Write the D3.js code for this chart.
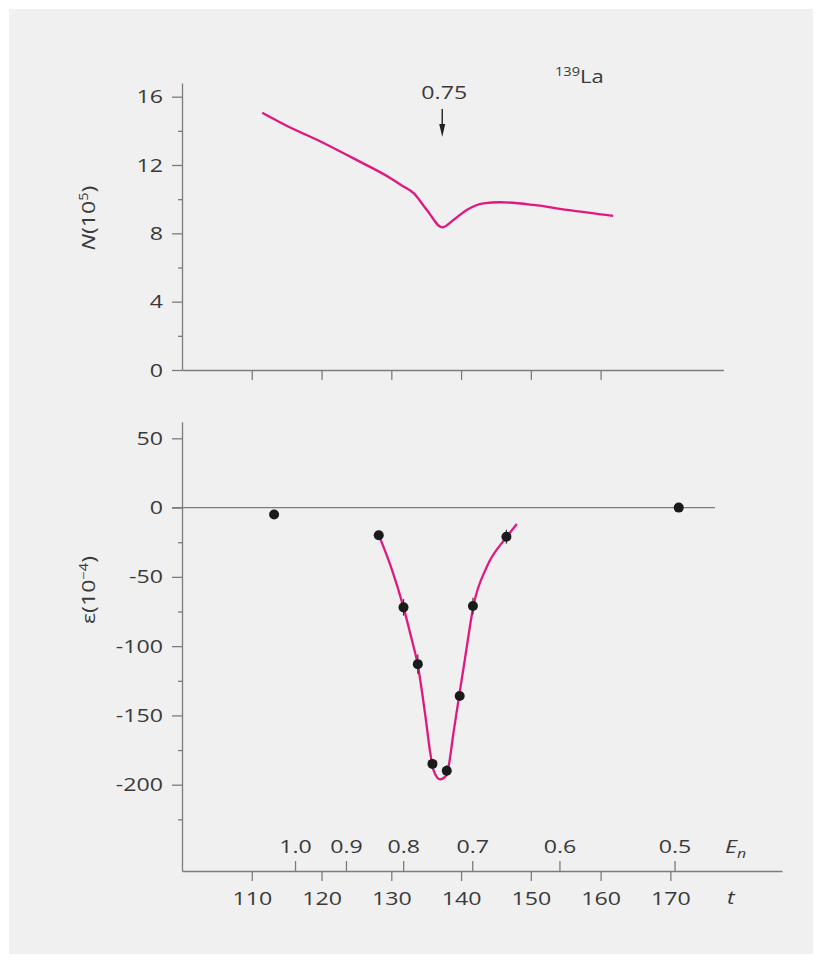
<!DOCTYPE html>
<html>
<head>
<meta charset="utf-8">
<script src="https://cdn.jsdelivr.net/npm/d3@7"></script>
<style>
  html, body { margin: 0; padding: 0; background: #ffffff; }
  svg { display: block; }
  text { font-family: "Open Sans", "Noto Sans", sans-serif; fill: #3a3a3a; }
</style>
</head>
<body>
<svg id="chart" width="822" height="963"></svg>
<script>
// Neutron counts N (×10^5) versus time-of-flight channel t
const countTimes  = [111.5, 115, 120, 125, 130, 131.5, 133.2, 135.1, 137.3, 138.9, 140.8, 143.2, 145.6, 150.4, 155.2, 161.8];
const countValues = [15.06, 14.3, 13.35, 12.3, 11.2, 10.8, 10.35, 9.37, 8.35, 8.78, 9.37, 9.76, 9.82, 9.66, 9.37, 9.02];

// Measured asymmetry ε (×10^-4) with error bars
const pointTimes  = [113.2, 128.2, 131.75, 133.8, 135.9, 137.95, 139.8, 141.7, 146.5, 171.2];
const pointValues = [-5, -20, -72, -113, -185, -190, -136, -71, -21, 0];
const pointErrors = [0, 0, 6, 7, 0, 4, 0, 6, 5, 0];

// Fitted resonance curve for ε
const fitTimes  = [128.2, 130.1, 131.75, 132.95, 133.75, 134.9, 135.6, 136.05, 137.0, 137.7, 138.2, 138.9, 139.7, 140.6, 141.8, 143.7, 146.5, 148.0];
const fitValues = [-19.7, -45, -72, -95.6, -112.4, -151, -177.5, -189.5, -196.2, -194.4, -187, -163, -136.6, -107.7, -70.3, -42.6, -21.4, -11.8];

// Axis ticks
const tTicks      = [110, 120, 130, 140, 150, 160, 170];
const topTTicks   = [110, 120, 130, 140, 150, 160];
const nTicks      = [0, 4, 8, 12, 16];
const nMinor      = [2, 6, 10, 14];
const epsTicks    = [50, 0, -50, -100, -150, -200];
const epsMinor    = [-25, -75, -125, -175, -225];
// Neutron energy labels and the time channel each one falls on
const energyLabels = ["1.0", "0.9", "0.8", "0.7", "0.6", "0.5"];
const energyTimes  = [116.2, 123.5, 131.7, 141.6, 154.1, 170.6];

// Resonance marker
const resonanceEnergy = "0.75";
const resonanceTime = 137.3;

const svg = d3.select("#chart");
const W = 822, H = 963;
const AXIS = "#7c7c7c";
const PINK = "#e0187f";
const FONT = 19;
const SX = 1.22; // horizontal stretch of the lettering

svg.append("rect").attr("x", 9).attr("y", 9).attr("width", W - 18).attr("height", H - 18).attr("fill", "#f0f0f0");

// Shared time scale
const x = d3.scaleLinear().domain([100, 186]).range([182, 782]);
const xTop = x.copy().domain([100, 177.6]).range([x(100), x(177.6)]);

const yTop = d3.scaleLinear().domain([0, 16.8]).range([370, 83]);
const yBot = d3.scaleLinear().domain([-262.3, 62]).range([871, 421.7]);

function stretch(sel) {
  sel.each(function () {
    const t = d3.select(this);
    const tx = +t.attr("x") || 0, ty = +t.attr("y") || 0;
    t.attr("x", 0).attr("y", 0).attr("transform", `translate(${tx},${ty}) scale(${SX},1)`);
  });
}

function styleAxis(g) {
  g.selectAll("path.domain").attr("stroke", AXIS).attr("stroke-width", 1.3);
  g.selectAll(".tick line").attr("stroke", AXIS).attr("stroke-width", 1.3);
  g.selectAll("text").attr("font-size", FONT).attr("fill", "#3a3a3a")
    .attr("font-family", '"Open Sans", "Noto Sans", sans-serif');
}

// ---------- Upper panel ----------
const gTop = svg.append("g");

gTop.append("g").attr("transform", `translate(${x(100)},0)`)
  .call(d3.axisLeft(yTop).tickValues(nTicks).tickSize(10).tickSizeOuter(0).tickPadding(9).tickFormat(d3.format("d")))
  .call(styleAxis)
  .call(g => stretch(g.selectAll("text")));
gTop.append("g").attr("transform", `translate(${x(100)},0)`)
  .call(d3.axisLeft(yTop).tickValues(nMinor).tickSize(4).tickFormat(""))
  .call(styleAxis)
  .call(g => g.select("path.domain").remove());

gTop.append("g").attr("transform", `translate(0,${yTop(0)})`)
  .call(d3.axisBottom(xTop).tickValues(topTTicks).tickSize(10).tickSizeOuter(0).tickFormat(""))
  .call(styleAxis);

gTop.append("path")
  .datum(countTimes.map((t, i) => [t, countValues[i]]))
  .attr("fill", "none").attr("stroke", PINK).attr("stroke-width", 2.3)
  .attr("d", d3.line().x(d => x(d[0])).y(d => yTop(d[1])).curve(d3.curveMonotoneX));

// Resonance arrow and label
const ax = x(resonanceTime);
gTop.append("line").attr("x1", ax).attr("x2", ax).attr("y1", 109).attr("y2", 128)
  .attr("stroke", "#222").attr("stroke-width", 1.4);
gTop.append("path").attr("d", `M${ax - 3},${124} L${ax + 3},${124} L${ax},${137} Z`).attr("fill", "#222");
gTop.append("text").attr("x", ax + 2).attr("y", 99).attr("text-anchor", "middle")
  .attr("font-size", FONT).text(resonanceEnergy).call(stretch);

// Isotope label
const iso = gTop.append("text").attr("x", 555).attr("y", 83).attr("font-size", 18);
iso.append("tspan").attr("font-size", 12).attr("dy", -7).text("139");
iso.append("tspan").attr("dy", 7).text("La");
iso.call(stretch);

// Y label N(10^5)
const nLab = gTop.append("text").attr("text-anchor", "middle").attr("font-size", FONT)
  .attr("transform", `translate(95,218) rotate(-90) scale(${SX},1)`);
nLab.append("tspan").attr("font-style", "italic").text("N");
nLab.append("tspan").text("(10");
nLab.append("tspan").attr("font-size", 12).attr("dy", -7).text("5");
nLab.append("tspan").attr("dy", 7).text(")");

// ---------- Lower panel ----------
const gBot = svg.append("g");

gBot.append("g").attr("transform", `translate(${x(100)},0)`)
  .call(d3.axisLeft(yBot).tickValues(epsTicks).tickSize(10).tickSizeOuter(0).tickPadding(9).tickFormat(d => d < 0 ? "-" + Math.abs(d) : String(d)))
  .call(styleAxis)
  .call(g => stretch(g.selectAll("text")));
gBot.append("g").attr("transform", `translate(${x(100)},0)`)
  .call(d3.axisLeft(yBot).tickValues(epsMinor).tickSize(4).tickFormat(""))
  .call(styleAxis)
  .call(g => g.select("path.domain").remove());

// Zero reference line
gBot.append("line")
  .attr("x1", x(100) - 10).attr("x2", x(176.4))
  .attr("y1", yBot(0)).attr("y2", yBot(0))
  .attr("stroke", AXIS).attr("stroke-width", 1.3);

// Time axis (t) below
gBot.append("g").attr("transform", `translate(0,${yBot.range()[0]})`)
  .call(d3.axisBottom(x).tickValues(tTicks).tickSize(10).tickSizeOuter(0).tickPadding(10).tickFormat(d3.format("d")))
  .call(styleAxis)
  .call(g => stretch(g.selectAll("text")));

// Energy axis (E_n) ticks pointing up from the same baseline
const energyScale = d3.scaleOrdinal().domain(energyLabels).range(energyTimes.map(t => x(t)));
const eAxis = d3.axisTop(energyScale).tickSize(10).tickSizeOuter(0).tickPadding(8);
gBot.append("g").attr("transform", `translate(0,${yBot.range()[0]})`)
  .call(eAxis)
  .call(styleAxis)
  .call(g => g.select("path.domain").remove())
  .call(g => stretch(g.selectAll("text")));

// Axis titles t and E_n
gBot.append("text").attr("x", 727).attr("y", 904).attr("font-size", FONT).attr("font-style", "italic").text("t").call(stretch);
const eLab = gBot.append("text").attr("x", 725).attr("y", 853).attr("font-size", FONT).attr("font-style", "italic");
eLab.append("tspan").text("E");
eLab.append("tspan").attr("font-size", 13).attr("dy", 5).text("n");
eLab.call(stretch);

// Y label ε(10^-4)
const eps = gBot.append("text").attr("text-anchor", "middle").attr("font-size", FONT)
  .attr("transform", `translate(95,590) rotate(-90) scale(${SX},1)`);
eps.append("tspan").text("ε(10");
eps.append("tspan").attr("font-size", 12).attr("dy", -7).text("−4");
eps.append("tspan").attr("dy", 7).text(")");

// Fit curve
gBot.append("path")
  .datum(fitTimes.map((t, i) => [t, fitValues[i]]))
  .attr("fill", "none").attr("stroke", PINK).attr("stroke-width", 2.3)
  .attr("d", d3.line().x(d => x(d[0])).y(d => yBot(d[1])).curve(d3.curveMonotoneX));

// Data points with error bars
const pts = pointTimes.map((t, i) => ({ t, v: pointValues[i], e: pointErrors[i] }));
gBot.selectAll("line.err").data(pts.filter(d => d.e > 0)).join("line")
  .attr("class", "err")
  .attr("x1", d => x(d.t)).attr("x2", d => x(d.t))
  .attr("y1", d => yBot(d.v + d.e)).attr("y2", d => yBot(d.v - d.e))
  .attr("stroke", "#333").attr("stroke-width", 1.2);
gBot.selectAll("circle.pt").data(pts).join("circle")
  .attr("class", "pt")
  .attr("cx", d => x(d.t)).attr("cy", d => yBot(d.v)).attr("r", 5)
  .attr("fill", "#1a1a1a");
</script>
</body>
</html>
